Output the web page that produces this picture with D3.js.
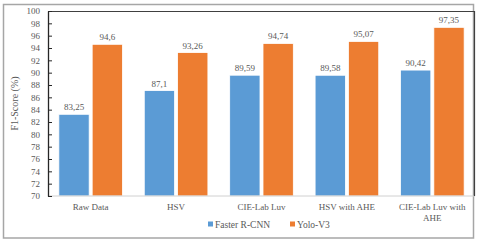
<!DOCTYPE html>
<html>
<head>
<meta charset="utf-8">
<script src="https://cdn.jsdelivr.net/npm/d3@7"></script>
<style>
  body { margin: 0; background: #fff; }
  svg text { font-family: "Liberation Serif", "Times New Roman", serif; fill: #595959; }
</style>
</head>
<body>
<svg id="chart" width="480" height="243"></svg>
<script>
var categories = [["Raw Data"], ["HSV"], ["CIE-Lab Luv"], ["HSV with AHE"], ["CIE-Lab Luv with", "AHE"]];
var seriesNames = ["Faster R-CNN", "Yolo-V3"];
var fasterRcnn = [83.25, 87.1, 89.59, 89.58, 90.42];
var yoloV3 = [94.6, 93.26, 94.74, 95.07, 97.35];
var yTicks = [70, 72, 74, 76, 78, 80, 82, 84, 86, 88, 90, 92, 94, 96, 98, 100];
var colors = ["#5B9BD5", "#ED7D31"];

var svg = d3.select("#chart");
var margin = {left: 48, right: 5, top: 11, bottom: 47};
var width = 480, height = 243;

// outer frame
svg.append("rect")
    .attr("x", 3.5).attr("y", 4.5)
    .attr("width", 470).attr("height", 233.5)
    .attr("fill", "#fff")
    .attr("stroke", "#a6a6a6")
    .attr("stroke-width", 1.5);

var x = d3.scaleBand()
    .domain(d3.range(categories.length))
    .range([margin.left, width - margin.right])
    .paddingInner(0.255)
    .paddingOuter(0.127);

var inner = d3.scaleBand()
    .domain([0, 1])
    .range([0, x.bandwidth()])
    .paddingInner(0.09);

var y = d3.scaleLinear()
    .domain([70, 100])
    .range([height - margin.bottom, margin.top]);

var g = svg.append("g");

// bars
var rows = [];
for (var i = 0; i < categories.length; i++) {
    rows.push({i: i, s: 0, v: fasterRcnn[i]});
    rows.push({i: i, s: 1, v: yoloV3[i]});
}

g.selectAll("rect.bar")
    .data(rows)
    .enter().append("rect")
    .attr("class", "bar")
    .attr("x", function(d) { return x(d.i) + inner(d.s); })
    .attr("y", function(d) { return y(d.v); })
    .attr("width", inner.bandwidth())
    .attr("height", function(d) { return y(70) - y(d.v); })
    .attr("fill", function(d) { return colors[d.s]; })
    .attr("stroke", "#fff")
    .attr("stroke-width", 0.8);

// value labels
g.selectAll("text.val")
    .data(rows)
    .enter().append("text")
    .attr("class", "val")
    .attr("x", function(d) { return x(d.i) + inner(d.s) + inner.bandwidth() / 2; })
    .attr("y", function(d) { return y(d.v) - 4; })
    .attr("text-anchor", "middle")
    .style("font-size", "9px")
    .text(function(d) { return String(d.v).replace(".", ","); });

// bottom axis line
g.append("line")
    .attr("x1", margin.left).attr("x2", width - margin.right)
    .attr("y1", y(70)).attr("y2", y(70))
    .attr("stroke", "#d0d0d0");

// plot frame top and right
g.append("path")
    .attr("d", "M" + margin.left + "," + (margin.top + 0.5) + "H" + (width - margin.right - 0.5) + "V" + y(70))
    .attr("fill", "none")
    .attr("stroke", "#404040")
    .attr("stroke-width", 1.2);

// y axis
var yAxis = d3.axisLeft(y)
    .tickValues(yTicks)
    .tickSizeInner(-4)
    .tickSizeOuter(0)
    .tickPadding(8);

var ya = g.append("g")
    .attr("transform", "translate(" + margin.left + ",0)")
    .call(yAxis);
ya.select(".domain").attr("stroke", "#262626").attr("stroke-width", 1.3);
ya.selectAll(".tick line").attr("stroke", "#262626");
ya.selectAll(".tick text")
    .style("font-size", "9px")
    .style("font-family", "'Liberation Serif', serif")
    .attr("fill", "#595959");

// x labels
g.selectAll("text.cat")
    .data(categories)
    .enter().append("text")
    .attr("class", "cat")
    .attr("text-anchor", "middle")
    .attr("x", function(d, i) { return x(i) + x.bandwidth() / 2; })
    .attr("y", 210)
    .style("font-size", "9px")
    .selectAll("tspan")
    .data(function(d) { return d; })
    .enter().append("tspan")
    .attr("x", function() { return d3.select(this.parentNode).attr("x"); })
    .attr("dy", function(d, j) { return j === 0 ? 0 : 11; })
    .text(function(d) { return d; });

// y title
svg.append("text")
    .attr("transform", "translate(18," + ((margin.top + y(70)) / 2) + ") rotate(-90)")
    .attr("text-anchor", "middle")
    .style("font-size", "10px")
    .text("F1-Score (%)");

// legend
var legendX = [208, 290];
var lg = svg.selectAll("g.legend")
    .data(seriesNames)
    .enter().append("g")
    .attr("class", "legend")
    .attr("transform", function(d, i) { return "translate(" + legendX[i] + ",225)"; });
lg.append("rect")
    .attr("x", 0).attr("y", -3.5)
    .attr("width", 5).attr("height", 5)
    .attr("fill", function(d, i) { return colors[i]; });
lg.append("text")
    .attr("x", 7).attr("y", 3)
    .style("font-size", "9.5px")
    .text(function(d) { return d; });
</script>
</body>
</html>
